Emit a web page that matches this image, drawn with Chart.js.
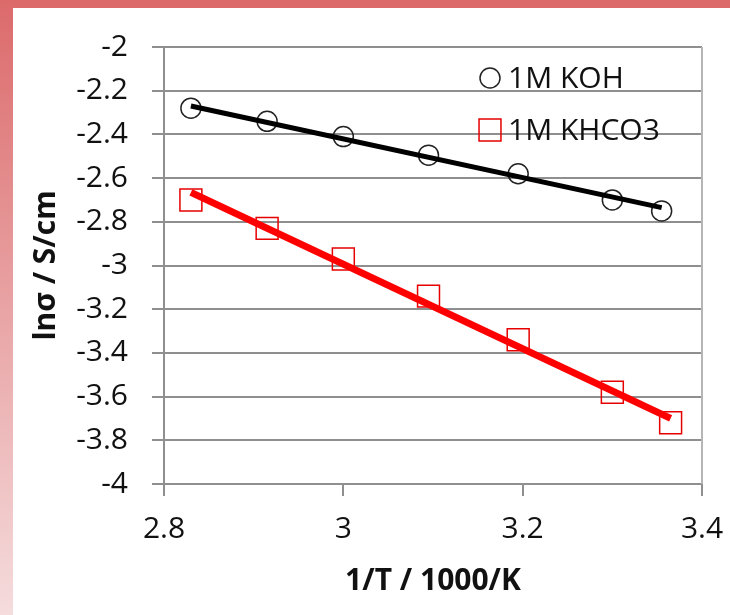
<!DOCTYPE html>
<html lang="en">
  <head>
    <meta charset="UTF-8" />
    <title>lnσ vs 1/T</title>
    <script src="https://cdn.jsdelivr.net/npm/chart.js"></script>
    <style>
      html, body { margin: 0; padding: 0; background: #fff; }
      #wrap { position: relative; width: 730px; height: 615px; overflow: hidden; }
      #topBar { position: absolute; left: 0; top: 0; width: 730px; height: 8px; background: #dc6a6b; }
      #leftBar { position: absolute; left: 0; top: 0; width: 13px; height: 615px; background: linear-gradient(#dc6a6b, #f5dcdd); }
      canvas { position: absolute; left: 0; top: 0; }
    </style>
  </head>
  <body>
    <div id="wrap">
      <div id="topBar"></div>
      <div id="leftBar"></div>
      <canvas id="myChart" width="730" height="615"></canvas>
    </div>
    <script>
      // values
      var seriesLabels = ["1M KOH", "1M KHCO3"]
      var kohX = [2.83, 2.915, 3.0, 3.095, 3.195, 3.3, 3.355]
      var kohY = [-2.28, -2.34, -2.41, -2.495, -2.58, -2.7, -2.75]
      var khco3X = [2.83, 2.915, 3.0, 3.095, 3.195, 3.3, 3.365]
      var khco3Y = [-2.7, -2.83, -2.97, -3.14, -3.34, -3.58, -3.72]
      // trend line end points
      var kohFitX = [2.83, 3.355]
      var kohFitY = [-2.27, -2.735]
      var khco3FitX = [2.83, 3.365]
      var khco3FitY = [-2.665, -3.7]
      var xMin = 2.8, xMax = 3.4, xStep = 0.2
      var yMin = -4, yMax = -2, yStep = 0.2

      function pts(xs, ys) {
        return xs.map(function (x, i) { return { x: x, y: ys[i] } })
      }

      var font = "'Open Sans', 'Noto Sans', sans-serif"
      var gridColor = "#8f8f8f"

      // legend drawn inside the plot, top right
      var innerLegend = {
        id: "innerLegend",
        afterDatasetsDraw: function (chart) {
          var ctx = chart.ctx
          var a = chart.chartArea
          var items = chart.data.datasets.filter(function (d) { return d.label })
          ctx.save()
          ctx.font = "30px " + font
          ctx.textBaseline = "middle"
          items.forEach(function (d, i) {
            var y = a.top + 31 + i * 52
            var x = a.right - 212
            ctx.fillStyle = "rgba(0,0,0,0)"
            ctx.strokeStyle = d.borderColor
            ctx.lineWidth = d.borderWidth
            Chart.helpers.drawPoint(ctx, {
              pointStyle: d.pointStyle,
              radius: d.pointRadius,
              borderWidth: d.borderWidth,
            }, x, y)
            ctx.fillStyle = "#111"
            ctx.fillText(d.label, x + 18, y + 1)
          })
          ctx.restore()
        },
        beforeDatasetsDraw: function (chart) {
          var ctx = chart.ctx
          var a = chart.chartArea
          ctx.save()
          ctx.strokeStyle = "#b5b5b5"
          ctx.lineWidth = 2
          ctx.beginPath()
          ctx.moveTo(a.right, a.top)
          ctx.lineTo(a.right, a.bottom)
          ctx.stroke()
          ctx.restore()
        },
      }

      var ctx = document.getElementById("myChart").getContext("2d")
      new Chart(ctx, {
        type: "scatter",
        data: {
          datasets: [
            {
              type: "line",
              data: pts(kohFitX, kohFitY),
              borderColor: "#000",
              borderWidth: 5,
              pointRadius: 0,
              fill: false,
            },
            {
              type: "line",
              data: pts(khco3FitX, khco3FitY),
              borderColor: "#ff0000",
              borderWidth: 7,
              pointRadius: 0,
              fill: false,
            },
            {
              label: seriesLabels[0],
              data: pts(kohX, kohY),
              pointStyle: "circle",
              pointRadius: 10,
              borderWidth: 1.5,
              borderColor: "#222",
              backgroundColor: "rgba(0,0,0,0)",
            },
            {
              label: seriesLabels[1],
              data: pts(khco3X, khco3Y),
              pointStyle: "rect",
              pointRadius: 15.5,
              borderWidth: 1.5,
              borderColor: "#e60000",
              backgroundColor: "rgba(0,0,0,0)",
            },
          ],
        },
        options: {
          responsive: false,
          animation: false,
          layout: { padding: { top: 47, right: 28, bottom: 0, left: 0 } },
          plugins: {
            legend: { display: false },
            tooltip: { enabled: false },
          },
          scales: {
            x: {
              type: "linear",
              min: xMin,
              max: xMax,
              afterFit: function (s) {
                s.height = 131
                s.paddingLeft = 0
                s.paddingRight = 0
              },
              ticks: {
                stepSize: xStep,
                color: "#111",
                padding: 15,
                font: { family: font, size: 30 },
                callback: function (v) { return String(+v.toFixed(1)) },
              },
              grid: { drawOnChartArea: false, drawTicks: true, tickLength: 12, color: gridColor, lineWidth: 2 },
              border: { color: gridColor, width: 2 },
              title: {
                display: true,
                text: "1/T / 1000/K",
                color: "#111",
                font: { family: font, size: 30, weight: "bold" },
                padding: { top: 0, bottom: 16 },
              },
            },
            y: {
              type: "linear",
              min: yMin,
              max: yMax,
              afterFit: function (s) {
                s.width = 164
                s.paddingTop = 0
                s.paddingBottom = 0
              },
              ticks: {
                stepSize: yStep,
                color: "#111",
                padding: 24,
                font: { family: font, size: 30 },
                callback: function (v) { return String(+v.toFixed(1)) },
              },
              grid: { drawTicks: true, tickLength: 12, color: gridColor, lineWidth: 2 },
              border: { color: gridColor, width: 2 },
              title: {
                display: true,
                text: "lnσ / S/cm",
                color: "#111",
                font: { family: font, size: 30, weight: "bold" },
                padding: { top: 28, bottom: 0 },
              },
            },
          },
        },
        plugins: [innerLegend],
      })
    </script>
  </body>
</html>
